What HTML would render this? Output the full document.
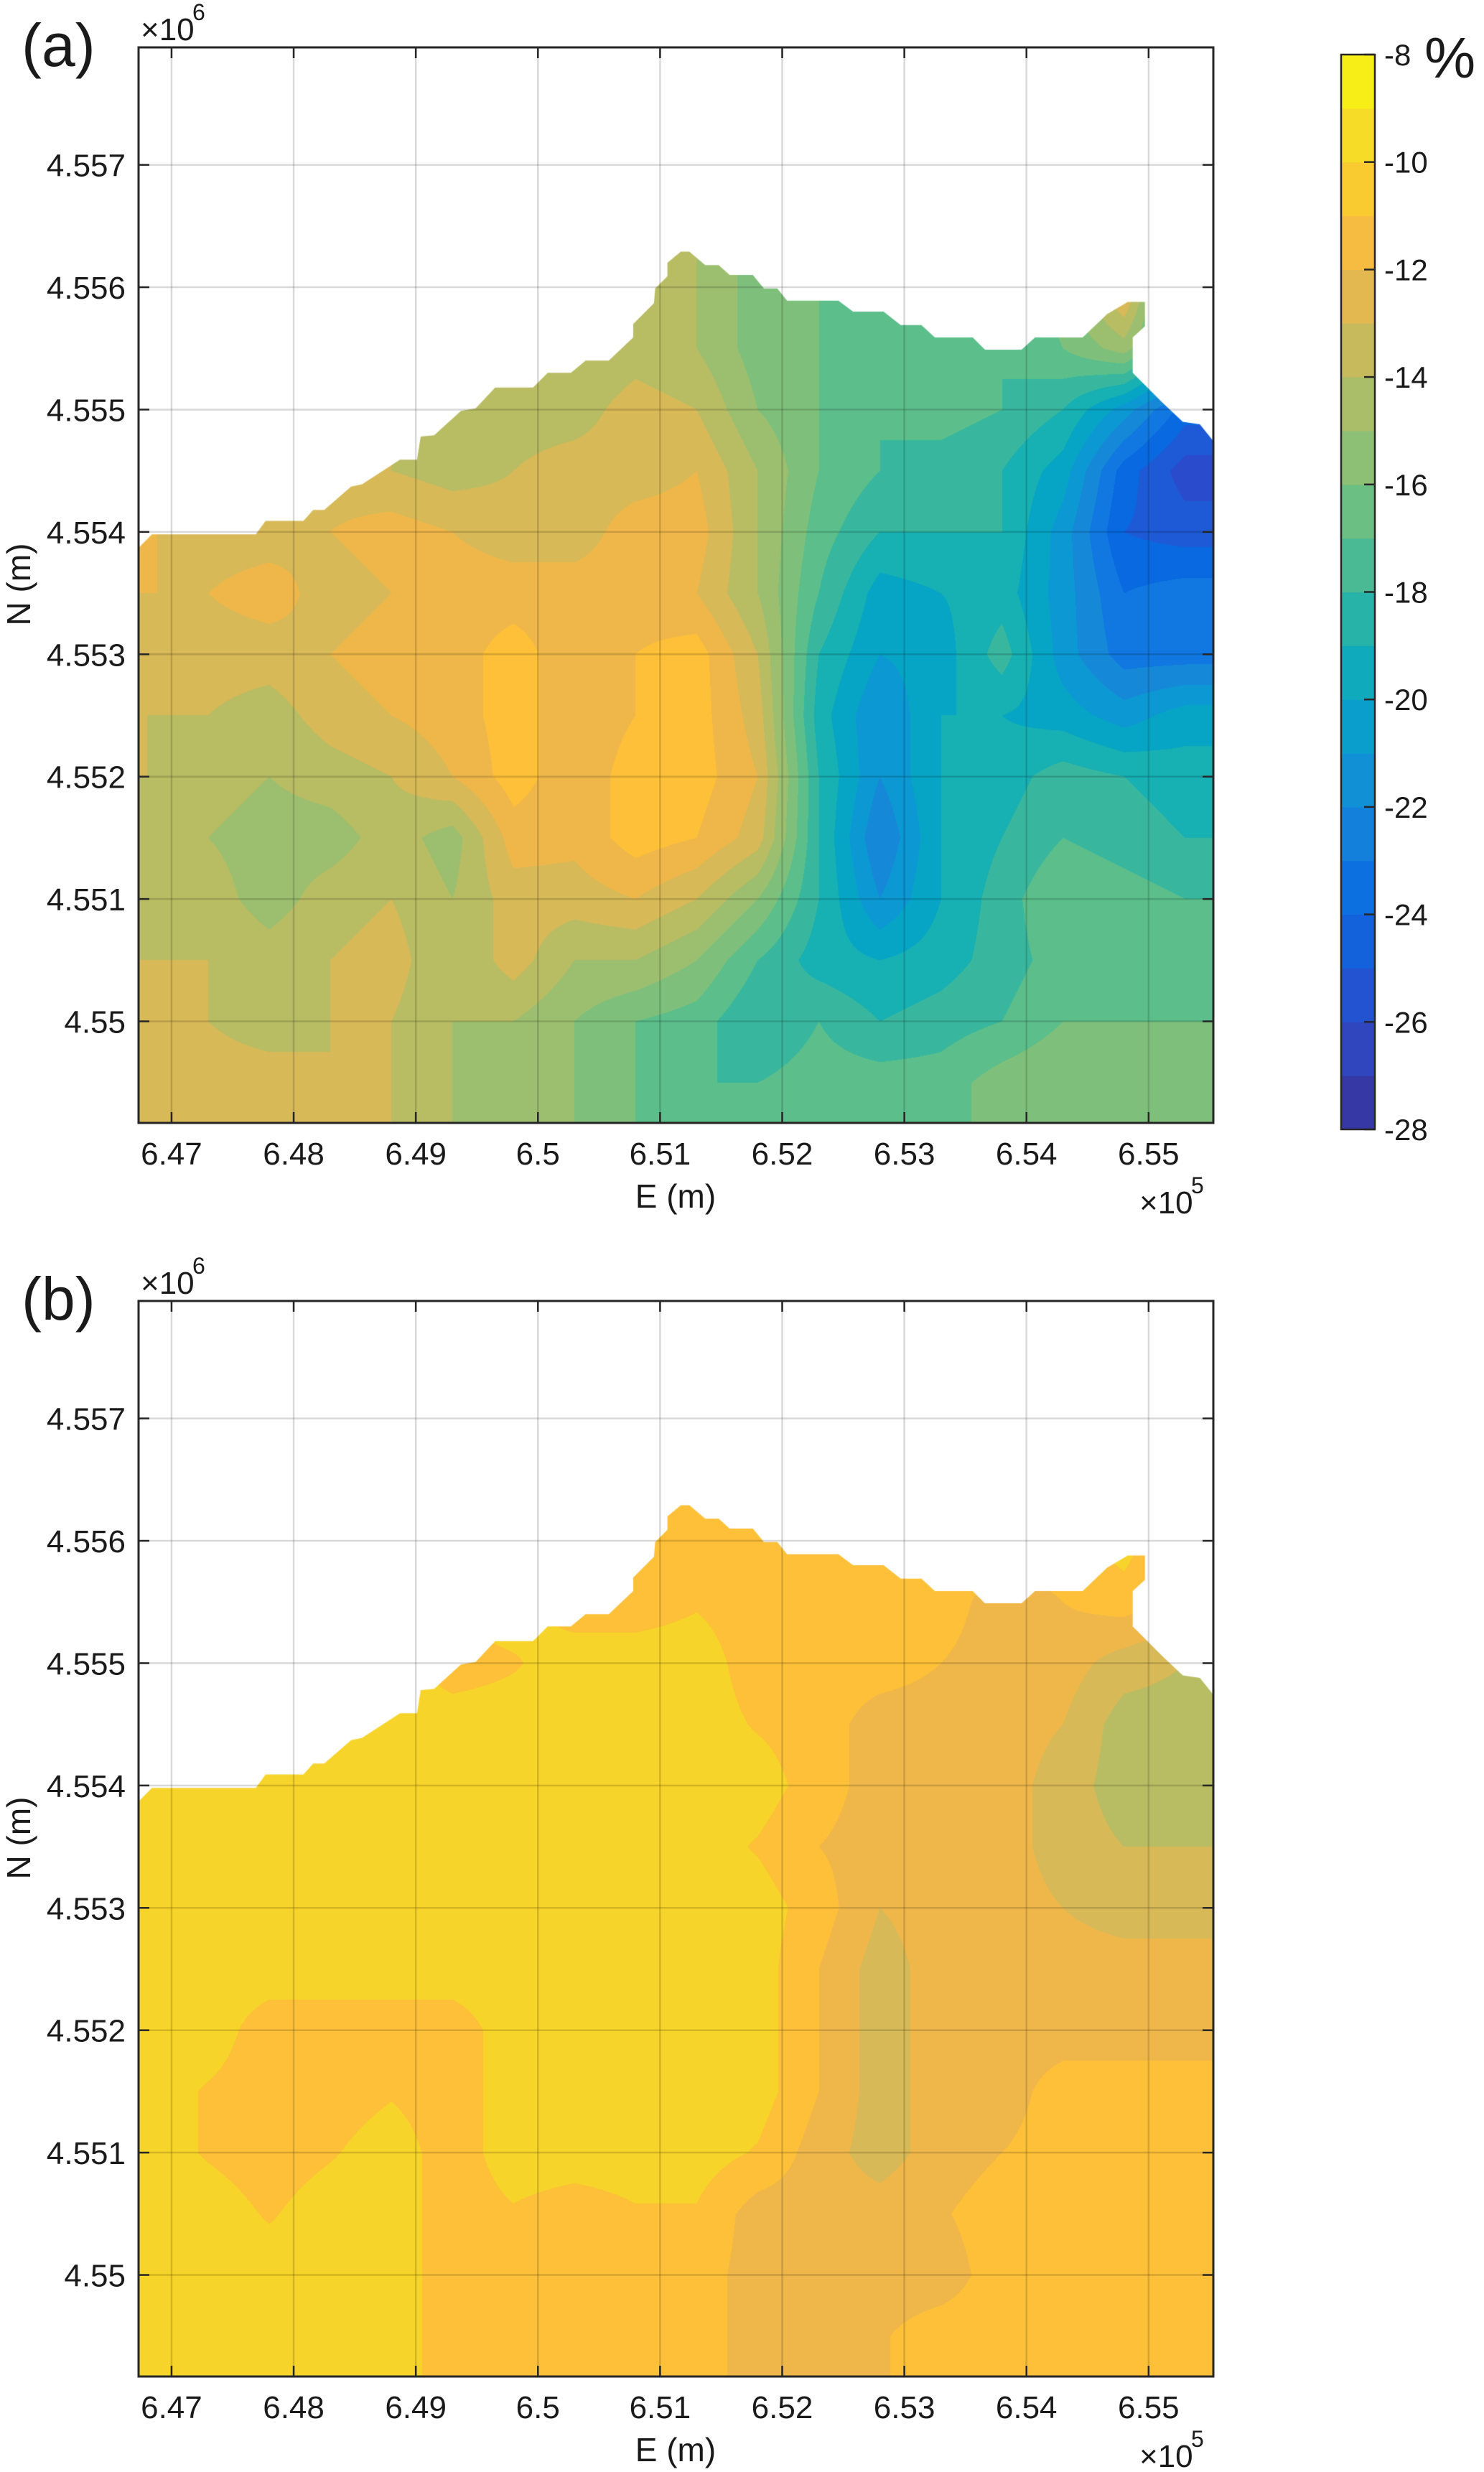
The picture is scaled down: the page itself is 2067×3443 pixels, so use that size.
<!DOCTYPE html>
<html><head><meta charset="utf-8"><style>
html,body{margin:0;padding:0;background:#fff;}
#root{position:relative;width:2067px;height:3443px;overflow:hidden;font-family:"Liberation Sans",Arial,sans-serif;}
canvas{position:absolute;left:0;top:0;}
svg{position:absolute;left:0;top:0;}
</style></head><body>
<div id="root">
<canvas id="cv" width="2067" height="3443"></canvas>
<svg id="sv" width="2067" height="3443" xmlns="http://www.w3.org/2000/svg"></svg>
</div>
<script>
// ---- data ----
const E_GRID = [6.468,6.473,6.478,6.483,6.488,6.493,6.498,6.503,6.508,6.513,6.518,6.523,6.528,6.533,6.538,6.543,6.548,6.553];
const N_GRID = [4.5560,4.5555,4.5550,4.5545,4.5540,4.5535,4.5530,4.5525,4.5520,4.5515,4.5510,4.5505,4.5500,4.5495];
const VALUES_A = [
[-13,-13,-13,-13,-13,-13,-13,-13.5,-13.5,-14.5,-16,-16.5,-17.5,-17.5,-17.5,-16,-12,-20],
[-13.5,-13.5,-13.5,-13.5,-14,-14,-13.5,-14.5,-14,-14.5,-16,-16.5,-17.5,-17.5,-17.5,-16.5,-15,-19],
[-13,-13,-13,-13,-13.5,-14.5,-14,-14,-13,-13.5,-15.5,-16.5,-17.5,-17,-17.5,-18.5,-21,-24],
[-12,-12,-12.5,-13,-13.5,-14,-13.5,-13,-13,-12.5,-14.5,-16.5,-17.5,-18,-18.5,-20,-24,-26],
[-12.4,-13,-13,-12.5,-12,-12.5,-13,-13,-12,-12,-14.5,-17,-18.5,-18.5,-18.5,-21,-24.5,-25],
[-12.5,-12.5,-12,-13,-12.5,-12,-12,-12,-12,-12.5,-14.5,-17.5,-20,-19.5,-19,-21,-23.5,-23],
[-13,-13,-13,-12.5,-12,-12,-11,-12.2,-11.5,-11,-13.5,-18.5,-20.5,-20,-18,-21,-23,-23],
[-13.5,-13.5,-14,-13,-12.5,-12,-11,-12.2,-11.5,-11,-13,-19,-21.5,-19.5,-19.5,-20,-21,-20],
[-13.5,-14,-14.5,-14,-13.5,-12.5,-11,-12.2,-11,-11,-12.5,-18.5,-21.5,-19.5,-19,-18,-18.5,-19],
[-14,-14.5,-15,-15,-14,-15,-12,-12.2,-11,-11.5,-13,-18.5,-22.5,-19.5,-18.5,-17.5,-18,-18.5],
[-14,-14,-15,-14,-13.5,-14.5,-13,-13,-12.5,-13.5,-15.5,-18.5,-21.5,-19.5,-18,-16.5,-17,-17.5],
[-13.5,-13.5,-14,-13.5,-13,-14.5,-13,-14.5,-14.5,-15.5,-17.5,-19,-19.5,-19,-18,-17,-16.5,-17.5],
[-13,-13.5,-14,-13.5,-13.5,-14.5,-14.5,-15.5,-16.5,-17,-18.5,-17.5,-18.5,-18,-17.5,-16.5,-16.5,-16.5],
[-13,-13,-13,-13.5,-13.5,-14.5,-15,-15.5,-16.5,-17.5,-17.5,-17,-17,-17,-16,-15.5,-16,-16]
];
const VALUES_B = [
[-10,-10,-10,-10,-10,-10,-10,-10.6,-10.6,-11,-11,-11,-11.5,-11,-11,-11,-10,-12],
[-10,-10,-10,-10,-10,-10,-10,-11,-11,-10.6,-11,-11.5,-11.5,-11,-12,-11.5,-11,-12],
[-10,-10,-10,-10,-10,-11,-10.6,-10,-10,-10,-11,-11,-11,-11.5,-12,-12,-13,-13.5],
[-10,-10,-10,-10,-10,-10,-10,-10,-10,-10,-10.6,-11,-12,-12,-12,-12.5,-14,-14],
[-10,-10,-10,-10,-10,-10,-10,-10,-10,-10,-10,-11,-12,-12,-12,-13,-14,-14],
[-10,-10,-10,-10,-10,-10,-10,-10,-10,-10,-10.6,-11.5,-12,-12,-12,-13,-13.5,-13.5],
[-10,-10,-10,-10,-10,-10,-10,-10,-10,-10,-10,-11,-12.5,-12,-12,-12.5,-13,-13],
[-10,-10,-10,-10,-10,-10,-10,-10,-10,-10,-10,-11.5,-13,-12,-12,-12,-12,-12],
[-10,-10,-11,-11,-11,-11,-10,-10,-10,-10,-10,-11.5,-13,-12,-12,-12,-12,-12],
[-10,-10.6,-11,-11,-10.6,-11,-10,-10,-10,-10,-10,-11.5,-13,-12,-12,-11,-11,-11],
[-10,-10.6,-11,-10.6,-10,-11,-10,-10,-10,-10,-10.6,-12,-13,-12,-11.5,-11,-11,-11.5],
[-10,-10,-10.6,-10,-10,-11,-10.6,-11,-10.6,-10.6,-12,-12,-12,-11.6,-11,-11,-11,-11],
[-10,-10,-10,-10,-10,-11,-11,-11,-11,-11,-12,-12,-12,-12,-11,-11,-11,-11],
[-10,-10,-10,-10,-10,-11,-11,-11,-11,-11,-12,-12,-11.6,-11,-11,-11,-11,-11]
];
const BOUNDARY_E = [6.4673,6.4684,6.4769,6.4777,6.4808,6.4816,6.4825,6.4847,6.4856,6.4887,6.4901,6.4904,6.4915,6.4937,6.4949,6.4965,6.4996,6.5008,6.5027,6.5039,6.5058,6.5078,6.5078,6.5095,6.5096,6.5106,6.5106,6.5117,6.5124,6.5137,6.5148,6.5157,6.5176,6.5185,6.5196,6.5204,6.5246,6.5258,6.5283,6.5297,6.5314,6.5325,6.5356,6.5366,6.5396,6.5407,6.5446,6.5466,6.5483,6.5497,6.5497,6.5487,6.5487,6.5511,6.5528,6.5542,6.5554];
const BOUNDARY_N = [4.55387,4.55398,4.55398,4.55409,4.55409,4.55418,4.55418,4.55437,4.55439,4.55459,4.55459,4.55478,4.55479,4.55499,4.55501,4.55518,4.55518,4.5553,4.5553,4.5554,4.5554,4.55559,4.5557,4.55587,4.55599,4.55609,4.5562,4.55629,4.55629,4.55618,4.55618,4.5561,4.5561,4.55599,4.55599,4.55589,4.55589,4.5558,4.5558,4.55569,4.55569,4.55559,4.55559,4.55549,4.55549,4.55559,4.55559,4.55578,4.55588,4.55588,4.55568,4.55559,4.5553,4.55506,4.5549,4.55488,4.55473];
const X_TICKS = [6.47,6.48,6.49,6.50,6.51,6.52,6.53,6.54,6.55];
const X_TICK_LABELS = ["6.47","6.48","6.49","6.5","6.51","6.52","6.53","6.54","6.55"];
const Y_TICKS = [4.550,4.551,4.552,4.553,4.554,4.555,4.556,4.557];
const Y_TICK_LABELS = ["4.55","4.551","4.552","4.553","4.554","4.555","4.556","4.557"];
const CBAR_TICKS = [-8,-10,-12,-14,-16,-18,-20,-22,-24,-26,-28];
const LEVEL_COLORS = ['#35309a','#3640b0','#2a4ccc','#1e5ad6','#0869e0','#1078e0','#1688d8','#0c98d3','#07a5c5','#17b0b3','#38b79e','#5bbe8b','#7ec07b','#9cbf6f','#b8bc63','#d7b957','#efb74a','#fdc038','#f7d42a','#f6e422','#f9f90f'];

// ---- geometry ----
const AX = {left:193,right:1690,top:66,bottom:1564};
const E_MIN=6.4673, E_MAX=6.5553, N_MIN=4.54917, N_MAX=4.55796;
const PANEL_OFFSETS=[0,1746];
function xs(E){return AX.left+(E-E_MIN)/(E_MAX-E_MIN)*(AX.right-AX.left);}
function ys(N,off){return off+AX.top+(N_MAX-N)/(N_MAX-N_MIN)*(AX.bottom-AX.top);}
const CB={left:1868,right:1915,top:76,bottom:1573,vmax:-8,vmin:-28};
function cy(v){return CB.top+(CB.vmax-v)/(CB.vmax-CB.vmin)*(CB.bottom-CB.top);}
function hex(c){return [parseInt(c.substr(1,2),16),parseInt(c.substr(3,2),16),parseInt(c.substr(5,2),16)];}
const LC = LEVEL_COLORS.map(hex);
function levelColor(v){let k=Math.round(v)+28;k=Math.max(0,Math.min(20,k));return LC[k];}

const cv=document.getElementById('cv');const ctx=cv.getContext('2d');
function sample(vals,E,N){
  const dE=E_GRID[1]-E_GRID[0], dN=N_GRID[0]-N_GRID[1];
  let fi=(E-E_GRID[0])/dE, fj=(N_GRID[0]-N)/dN;
  fi=Math.max(0,Math.min(E_GRID.length-1,fi)); fj=Math.max(0,Math.min(N_GRID.length-1,fj));
  const i0=Math.min(E_GRID.length-2,Math.floor(fi)), j0=Math.min(N_GRID.length-2,Math.floor(fj));
  const a=fi-i0,b=fj-j0;
  return (vals[j0][i0]*(1-a)+vals[j0][i0+1]*a)*(1-b)+(vals[j0+1][i0]*(1-a)+vals[j0+1][i0+1]*a)*b;
}
function drawMap(vals,off){
  const w=AX.right-AX.left,h=AX.bottom-AX.top;
  const off2=document.createElement('canvas');off2.width=w;off2.height=h;
  const c2=off2.getContext('2d');const img=c2.createImageData(w,h);
  for(let py=0;py<h;py++){const N=N_MAX-(py+0.5)/h*(N_MAX-N_MIN);
    for(let px=0;px<w;px++){const E=E_MIN+(px+0.5)/w*(E_MAX-E_MIN);
      const col=levelColor(sample(vals,E,N));const k=(py*w+px)*4;
      img.data[k]=col[0];img.data[k+1]=col[1];img.data[k+2]=col[2];img.data[k+3]=255;}}
  c2.putImageData(img,0,0);
  ctx.save();ctx.beginPath();
  ctx.moveTo(xs(BOUNDARY_E[0]),ys(N_MIN,off));
  for(let i=0;i<BOUNDARY_E.length;i++)ctx.lineTo(xs(BOUNDARY_E[i]),ys(BOUNDARY_N[i],off));
  ctx.lineTo(AX.right,ys(N_MIN,off));ctx.closePath();ctx.clip();
  ctx.drawImage(off2,AX.left,AX.top+off);ctx.restore();
}
drawMap(VALUES_A,PANEL_OFFSETS[0]);
drawMap(VALUES_B,PANEL_OFFSETS[1]);

// ---- svg overlay ----
const NS='http://www.w3.org/2000/svg';const sv=document.getElementById('sv');
function el(tag,attrs,parent){const e=document.createElementNS(NS,tag);for(const k in attrs)e.setAttribute(k,attrs[k]);(parent||sv).appendChild(e);return e;}
function txt(s,x,y,size,anchor,parent){const t=el('text',{x:x,y:y,'font-size':size,'text-anchor':anchor||'start',fill:'#1a1a1a','font-family':'Liberation Sans, Arial, sans-serif'},parent);t.textContent=s;return t;}

['a','b'].forEach((p,pi)=>{
  const off=PANEL_OFFSETS[pi];
  const g=el('g',{});
  
  
  X_TICKS.forEach((t,i)=>{
    const x=xs(t);
    const gl=el('line',{x1:x,y1:AX.top+off,x2:x,y2:AX.bottom+off,stroke:'rgba(0,0,0,0.15)','stroke-width':2.5},g);
    
    
    el('line',{x1:x,y1:AX.bottom+off,x2:x,y2:AX.bottom+off-15,stroke:'#262626','stroke-width':2.5},g);
    el('line',{x1:x,y1:AX.top+off,x2:x,y2:AX.top+off+15,stroke:'#262626','stroke-width':2.5},g);
    const lb=txt(X_TICK_LABELS[i],x,AX.bottom+off+58,44,'middle',g);
    
    
  });
  Y_TICKS.forEach((t,i)=>{
    const y=ys(t,off);
    const gl=el('line',{x1:AX.left,y1:y,x2:AX.right,y2:y,stroke:'rgba(0,0,0,0.15)','stroke-width':2.5},g);
    
    
    el('line',{x1:AX.left,y1:y,x2:AX.left+15,y2:y,stroke:'#262626','stroke-width':2.5},g);
    el('line',{x1:AX.right,y1:y,x2:AX.right-15,y2:y,stroke:'#262626','stroke-width':2.5},g);
    const lb=txt(Y_TICK_LABELS[i],175,y+16,44,'end',g);
    
    
  });
  const box=el('rect',{x:AX.left,y:AX.top+off,width:AX.right-AX.left,height:AX.bottom-AX.top,fill:'none',stroke:'#262626','stroke-width':3},g);
  
  
  const pl=txt('('+p+')',30,off+92,84,'start',g);
  
  
  const ym=txt('\u00d710',196,off+56,44,'start',g);
  
  
  txt('6',268,off+28,32,'start',g);
  const xm=txt('\u00d710',1587,off+1690,44,'start',g);
  
  
  txt('5',1659,off+1662,32,'start',g);
  const xt=txt('E (m)',941,off+1682,46,'middle',g);
  
  
  const yt=el('text',{x:0,y:0,'font-size':46,'text-anchor':'middle',fill:'#1a1a1a',transform:'translate(42,'+(off+814)+') rotate(-90)','font-family':'Liberation Sans, Arial, sans-serif'},g);
  yt.textContent='N (m)';
  
  
});

// colorbar
const cbg=el('g',{});


for(let v=CB.vmin;v<CB.vmax;v++){
  const c0=LC[v+28],c1=LC[v+29];
  const col='rgb('+((c0[0]+c1[0])>>1)+','+((c0[1]+c1[1])>>1)+','+((c0[2]+c1[2])>>1)+')';
  const r=el('rect',{x:CB.left,y:cy(v+1),width:CB.right-CB.left,height:cy(v)-cy(v+1)+0.5,fill:col},cbg);
  
  
}
el('rect',{x:CB.left,y:CB.top,width:CB.right-CB.left,height:CB.bottom-CB.top,fill:'none',stroke:'#262626','stroke-width':2.5},cbg);
CBAR_TICKS.forEach(t=>{
  const y=cy(t);
  el('line',{x1:CB.right,y1:y,x2:CB.right-15,y2:y,stroke:'#262626','stroke-width':2.5},cbg);
  const lb=txt(String(t),1928,y+15,42,'start',cbg);
  
  
});
const pc=txt('%',1984,108,80,'start',cbg);


</script>
</body></html>
